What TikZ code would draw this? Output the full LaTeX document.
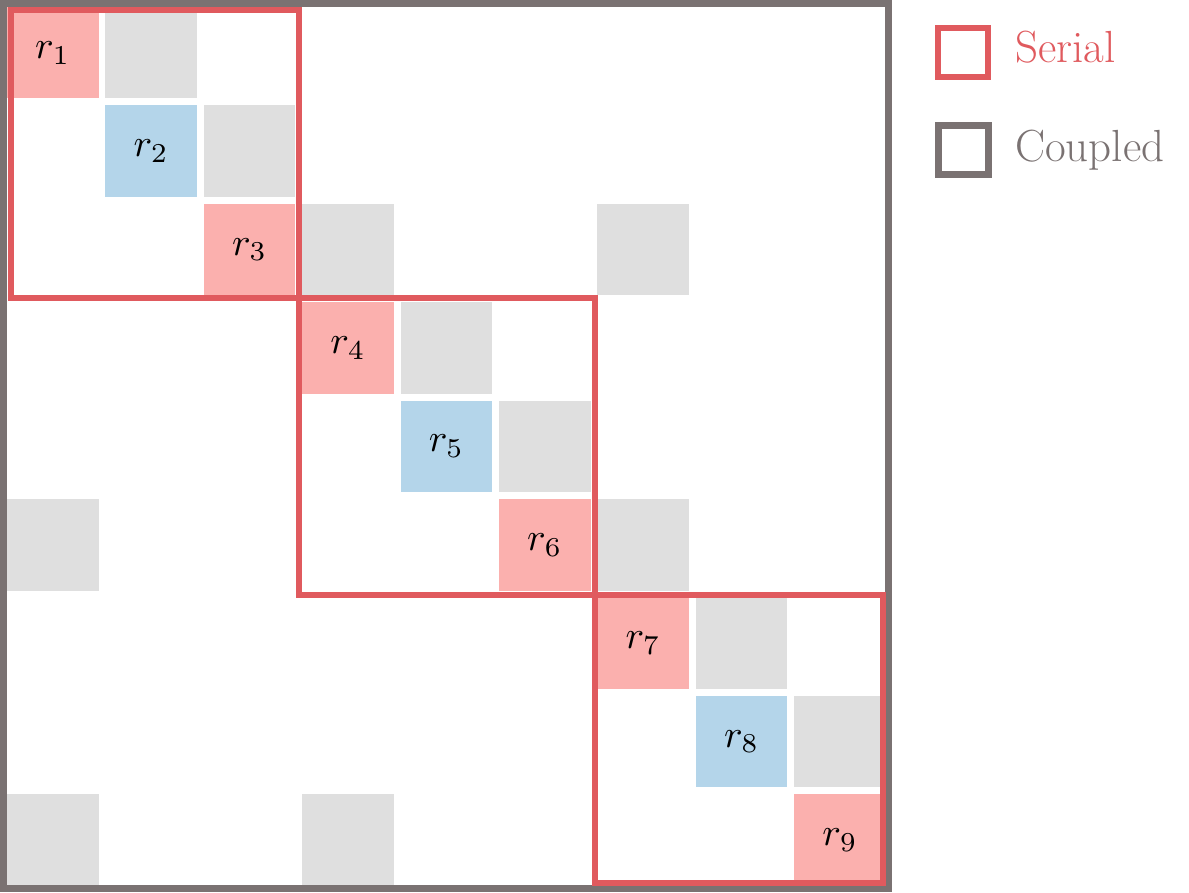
\documentclass[tikz,border=0pt]{standalone}
\usepackage{graphicx}
\definecolor{serialred}{RGB}{224,90,94}
\definecolor{coupledgray}{RGB}{122,114,114}
\definecolor{cellpink}{RGB}{251,176,174}
\definecolor{cellblue}{RGB}{180,213,234}
\definecolor{cellgray}{RGB}{223,223,223}
\tikzset{
  cell/.style={minimum size=91.5pt, inner sep=0pt, outer sep=0pt},
  pinkcell/.style={cell, fill=cellpink},
  bluecell/.style={cell, fill=cellblue},
  graycell/.style={cell, fill=cellgray},
  serialbox/.style={draw=serialred, line width=6pt},
  coupledbox/.style={draw=coupledgray, line width=7pt},
  legendtext/.style={anchor=base west, inner sep=0pt, font=\fontsize{45}{50}\selectfont},
}
\begin{document}
\begin{tikzpicture}[x=1pt,y=-1pt]
\useasboundingbox (0,0) rectangle (1189,893);
\fill[white] (0,0) rectangle (1189,893);
% diagonal cells
\foreach \k/\s in {1/pinkcell,2/bluecell,3/pinkcell,4/pinkcell,5/bluecell,6/pinkcell,7/pinkcell,8/bluecell,9/pinkcell}{
  \pgfmathsetmacro\pos{52.75+98.4*(\k-1)}
  \node[\s] (d\k) at (\pos,\pos) {\raisebox{-2pt}{\scalebox{3.9}{$r_{\k}$}}};
}
% coupling (gray) cells: row/col, 0-indexed from top-left
\foreach \r/\c in {0/1,1/2,2/3,2/6,3/4,4/5,5/0,5/6,6/7,7/8,8/0,8/3}{
  \pgfmathsetmacro\px{52.75+98.4*\c}
  \pgfmathsetmacro\py{52.75+98.4*\r}
  \node[graycell] (g\r\c) at (\px,\py) {};
}
% coupled outer box
\draw[coupledbox] (3.5,3.5) rectangle (888.5,888.5);
% serial boxes
\draw[serialbox] (10.5,10.5) rectangle (298.5,298.5);
\draw[serialbox] (298.5,298.5) rectangle (594.5,594.5);
\draw[serialbox] (594.5,594.5) rectangle (882.5,882.5);
% legend
\draw[serialbox] (938,28) rectangle (988,77);
\node[legendtext, text=serialred] (lserial) at (1015,63) {Serial};
\draw[coupledbox] (938,126) rectangle (988,175);
\node[legendtext, text=coupledgray] (lcoupled) at (1015,162) {Coupled};
\end{tikzpicture}
\end{document}
